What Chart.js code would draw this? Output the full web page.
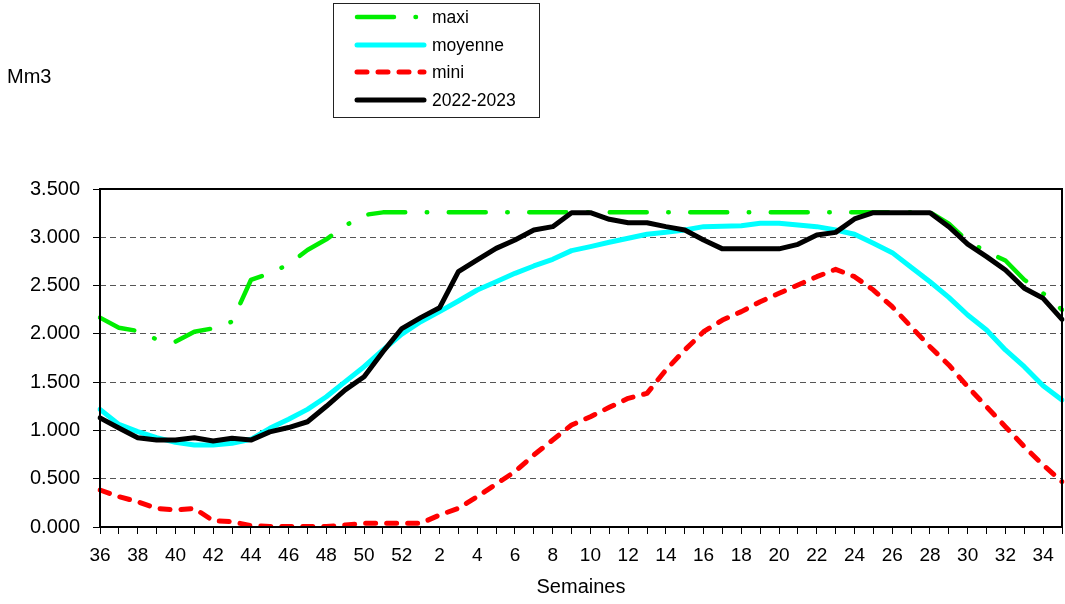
<!DOCTYPE html>
<html>
<head>
<meta charset="utf-8">
<script src="https://cdn.jsdelivr.net/npm/chart.js@4/dist/chart.umd.min.js"></script>
<style>
body{margin:0;background:#fff;}
#wrap{width:1065px;height:604px;}
</style>
</head>
<body>
<div id="wrap"><canvas id="stockChart" width="1065" height="604"></canvas></div>
<script>
// weeks 36..52 then 1..35
const weeks = ['36','37','38','39','40','41','42','43','44','45','46','47','48','49','50','51','52',
  '1','2','3','4','5','6','7','8','9','10','11','12','13','14','15','16','17','18','19','20',
  '21','22','23','24','25','26','27','28','29','30','31','32','33','34','35'];

const maxi = [2168,2064,2030,1943,1919,2022,2057,2126,2558,2627,2720,2868,2979,3120,3231,3258,3258,
  3258,3258,3258,3258,3258,3258,3258,3258,3258,3258,3258,3258,3258,3258,3258,3258,3258,3258,3258,3258,
  3258,3258,3258,3258,3258,3258,3258,3258,3140,2960,2850,2760,2560,2420,2250];

const moyenne = [1218,1063,987,925,877,849,849,867,908,1022,1115,1218,1349,1505,1660,1833,1998,
  2126,2230,2340,2454,2540,2627,2703,2772,2862,2903,2948,2990,3031,3051,3075,3110,3115,3120,3145,3145,
  3127,3110,3075,3031,2937,2841,2689,2540,2378,2195,2040,1833,1660,1463,1315];

const mini = [383,314,262,193,176,193,65,55,14,5,5,5,5,21,38,38,38,
  38,124,193,314,445,573,746,901,1056,1142,1239,1332,1384,1626,1833,2022,2143,2230,2333,2420,
  2506,2592,2668,2592,2454,2281,2074,1867,1678,1453,1246,1039,832,642,469];

const y2022 = [1130,1025,925,900,900,925,890,920,900,985,1030,1090,1250,1420,1556,1815,2055,
  2168,2270,2644,2765,2885,2972,3075,3110,3255,3255,3186,3151,3151,3110,3075,2972,2880,2880,2880,2880,
  2927,3024,3051,3190,3255,3255,3255,3255,3110,2930,2800,2661,2472,2368,2150];

const yTicks = [0,500,1000,1500,2000,2500,3000,3500];

const FONT = "'Liberation Sans', Arial, sans-serif";
Chart.defaults.font.family = FONT;
Chart.defaults.color = '#000';

function fmt(v){ return Math.floor(v/1000) + '.' + String(v%1000).padStart(3,'0'); }

const sets = [
  {label:'2022-2023', data:y2022, borderColor:'#000000', borderWidth:5, dash:[], order:0},
  {label:'mini', data:mini, borderColor:'#ff0000', borderWidth:5, dash:[10,11], order:1},
  {label:'moyenne', data:moyenne, borderColor:'#00ffff', borderWidth:5, dash:[], order:2},
  {label:'maxi', data:maxi, borderColor:'#00ee00', borderWidth:4.5, dash:[37,21.5,0.5,21.5], order:3}
];

const extras = {
  id:'extras',
  afterDatasetsDraw(chart){
    const c = chart.ctx, a = chart.chartArea;
    c.save();
    c.strokeStyle = '#000'; c.lineWidth = 2;
    c.strokeRect(a.left, a.top, a.right - a.left, a.bottom - a.top);
    c.restore();
  },
  afterDraw(chart){
    const c = chart.ctx;
    c.save();
    c.font = '20px ' + FONT; c.fillStyle = '#000'; c.textBaseline = 'middle';
    c.fillText('Mm3', 7, 77);
    // legend box
    c.strokeStyle = '#222'; c.lineWidth = 1;
    c.strokeRect(333.5, 3.5, 206, 114);
    const order = ['maxi','moyenne','mini','2022-2023'];
    const ys = [17, 45, 72, 100];
    order.forEach((lab, k) => {
      const ds = sets.find(s => s.label === lab);
      c.beginPath();
      c.setLineDash(ds.dash);
      c.lineCap = 'round';
      c.strokeStyle = ds.borderColor; c.lineWidth = ds.borderWidth;
      c.moveTo(357, ys[k]); c.lineTo(424, ys[k]);
      c.stroke();
      c.setLineDash([]);
      c.font = '17.5px ' + FONT; c.fillStyle = '#000';
      c.fillText(lab, 432, ys[k] + 1);
    });
    c.restore();
  }
};

new Chart(document.getElementById('stockChart').getContext('2d'), {
  type:'line',
  data:{
    labels: weeks,
    datasets: sets.map(s => ({
      label:s.label, data:s.data, borderColor:s.borderColor, backgroundColor:s.borderColor,
      borderWidth:s.borderWidth, borderDash:s.dash, borderCapStyle:'round', borderJoinStyle:'round',
      pointRadius:0, tension:0, fill:false, order:s.order
    }))
  },
  options:{
    responsive:false, animation:false, devicePixelRatio:1,
    layout:{padding:{top:189, right:3, left:0, bottom:0}},
    plugins:{legend:{display:false}, tooltip:{enabled:false}},
    scales:{
      x:{
        offset:false,
        afterFit(s){ s.height = 77; s.paddingLeft = 0; s.paddingRight = 0; },
        grid:{drawOnChartArea:false, drawTicks:true, tickLength:7, tickColor:'#000', lineWidth:1},
        border:{display:false},
        ticks:{autoSkip:false, maxRotation:0, padding:10, font:{size:19}, color:'#000',
          callback(v, i){ return i % 2 === 0 ? weeks[i] : ''; }},
        title:{display:true, text:'Semaines', font:{size:20}, color:'#000', padding:{top:8, bottom:5}}
      },
      y:{
        min:0, max:3500,
        afterFit(s){ s.width = 100; s.paddingTop = 0; s.paddingBottom = 0; },
        afterBuildTicks(s){ s.ticks = yTicks.map(v => ({value:v})); },
        grid:{color:'#555', lineWidth:1, drawTicks:true, tickLength:7, tickColor:'#000', tickBorderDash:[]},
        border:{display:false, dash:[6,4]},
        ticks:{padding:13, font:{size:20}, color:'#000', callback(v){ return fmt(v); }}
      }
    }
  },
  plugins:[extras]
});
</script>
</body>
</html>
